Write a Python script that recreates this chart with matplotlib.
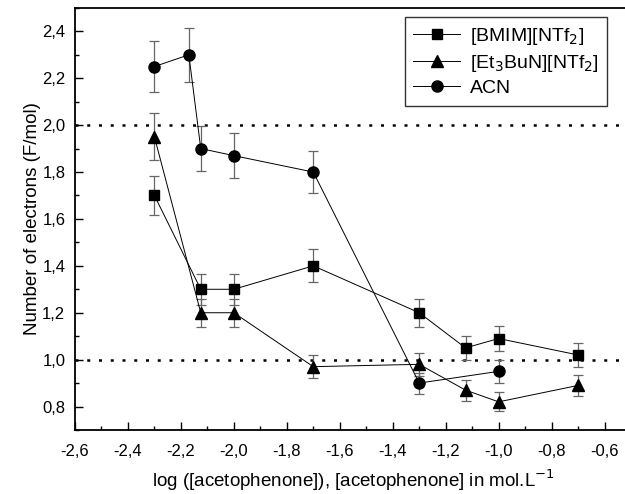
import matplotlib
matplotlib.use("Agg")
import matplotlib.pyplot as plt
from matplotlib.lines import Line2D
from matplotlib.ticker import MultipleLocator, FuncFormatter

plt.rcParams['font.family'] = ['Liberation Sans', 'DejaVu Sans']

# log of acetophenone concentration (mol/L)
x_bmim = [-2.3, -2.125, -2.0, -1.7, -1.3, -1.125, -1.0, -0.7]
y_bmim = [1.70, 1.30, 1.30, 1.40, 1.20, 1.05, 1.09, 1.02]
e_bmim = [0.085, 0.065, 0.065, 0.07, 0.06, 0.05, 0.055, 0.05]

x_et3 = [-2.3, -2.125, -2.0, -1.7, -1.3, -1.125, -1.0, -0.7]
y_et3 = [1.95, 1.20, 1.20, 0.97, 0.98, 0.87, 0.82, 0.89]
e_et3 = [0.10, 0.06, 0.06, 0.05, 0.05, 0.045, 0.04, 0.045]

x_acn = [-2.3, -2.17, -2.125, -2.0, -1.7, -1.3, -1.0]
y_acn = [2.25, 2.30, 1.90, 1.87, 1.80, 0.90, 0.95]
e_acn = [0.11, 0.115, 0.095, 0.095, 0.09, 0.045, 0.05]

labels = ['[BMIM][NTf$_2$]', '[Et$_3$BuN][NTf$_2$]', 'ACN']
ref_levels = [2.0, 1.0]

fig = plt.figure(figsize=(6.25, 4.94), dpi=100)
ax = fig.add_axes([0.12, 0.1296, 0.8896, 0.8544])

err_kw = dict(ecolor='#666666', elinewidth=0.9, capsize=3.5, capthick=0.9)
line_kw = dict(color='black', linewidth=0.7, markerfacecolor='black',
               markeredgecolor='black')

series = [(x_bmim, y_bmim, e_bmim, 's', 7),
          (x_et3, y_et3, e_et3, '^', 8.5),
          (x_acn, y_acn, e_acn, 'o', 8)]

handles = []
for (xs, ys, es, mk, ms), lab in zip(series, labels):
    ax.errorbar(xs, ys, yerr=es, marker=mk, markersize=ms, **line_kw, **err_kw)
    handles.append(Line2D([], [], marker=mk, markersize=ms, label=lab,
                          **line_kw))

for lv in ref_levels:
    ax.axhline(lv, color='black', linestyle=(0, (1.2, 3.5)), linewidth=1.8,
               zorder=0)

ax.set_xlim(-2.6, -0.5)
ax.set_ylim(0.7, 2.5)
ax.xaxis.set_major_locator(MultipleLocator(0.2))
ax.xaxis.set_minor_locator(MultipleLocator(0.1))
ax.yaxis.set_major_locator(MultipleLocator(0.2))
ax.yaxis.set_minor_locator(MultipleLocator(0.1))
comma = FuncFormatter(lambda v, p: f"{v:.1f}".replace('.', ','))
ax.xaxis.set_major_formatter(comma)
ax.yaxis.set_major_formatter(comma)

ax.tick_params(which='both', direction='in', top=False, right=False,
               labelsize=12, width=1.0)
ax.tick_params(which='major', length=6)
ax.tick_params(axis='x', which='major', pad=10)
ax.tick_params(axis='y', which='major', pad=7)
ax.tick_params(which='minor', length=3)
for s in ax.spines.values():
    s.set_linewidth(1.3)

ax.set_xlabel('log ([acetophenone]), [acetophenone] in mol.L$^{-1}$',
              fontsize=13.5, labelpad=6)
ax.set_ylabel('Number of electrons (F/mol)', fontsize=13.5, labelpad=1)

leg = ax.legend(handles=handles, loc='upper right',
                bbox_to_anchor=(0.968, 0.992),
                fontsize=14, frameon=True, fancybox=False,
                edgecolor='black', handlelength=2.4, handletextpad=0.5,
                borderpad=0.45, labelspacing=0.3, borderaxespad=0.3)
leg.get_frame().set_linewidth(1.0)

fig.savefig('out.png', dpi=100)
